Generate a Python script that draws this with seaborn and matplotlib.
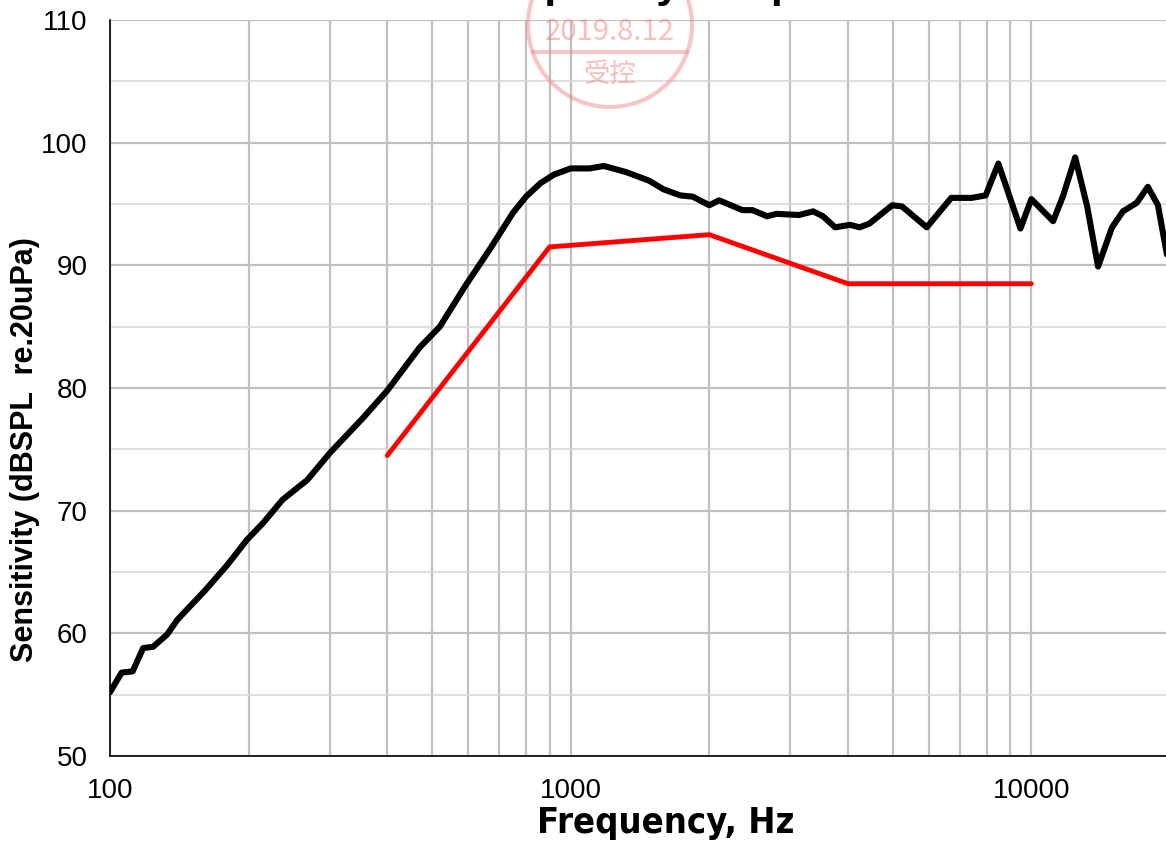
import numpy as np
import pandas as pd
import matplotlib
matplotlib.use('Agg')
import matplotlib.pyplot as plt
import seaborn as sns
from matplotlib import font_manager
from matplotlib.patches import Ellipse
from matplotlib.lines import Line2D
from matplotlib.ticker import FixedLocator, NullFormatter, FuncFormatter

# measured response (black)
freq_hz = [100, 106, 112, 118, 124, 133, 140, 150, 160, 180, 198, 215, 237, 268,
           300, 355, 400, 470, 520, 590, 670, 750, 800, 860, 920, 1000, 1100,
           1180, 1320, 1480, 1590, 1730, 1840, 2000, 2100, 2360, 2480, 2670,
           2800, 3130, 3360, 3530, 3750, 4040, 4240, 4450, 4990, 5240, 5930,
           6700, 7430, 7960, 8480, 9470, 10000, 11150, 11730, 12450, 13220,
           13960, 14970, 15810, 16940, 17900, 18830, 19670, 20000]
spl_db = [55.2, 56.8, 56.9, 58.8, 58.9, 59.9, 61.1, 62.3, 63.4, 65.6, 67.6, 69.0,
          70.9, 72.5, 74.7, 77.6, 79.8, 83.3, 85.0, 88.3, 91.4, 94.3, 95.6, 96.7,
          97.4, 97.9, 97.9, 98.1, 97.6, 96.9, 96.2, 95.7, 95.6, 94.9, 95.3, 94.5,
          94.5, 94.0, 94.2, 94.1, 94.4, 94.0, 93.1, 93.3, 93.1, 93.4, 94.9, 94.8,
          93.1, 95.5, 95.5, 95.7, 98.3, 93.0, 95.4, 93.6, 95.7, 98.8, 94.8, 89.9,
          93.1, 94.4, 95.1, 96.4, 94.9, 91.0, 89.8]

# lower limit (red)
limit_hz = [400, 900, 2000, 4000, 10000]
limit_db = [74.5, 91.5, 92.5, 88.5, 88.5]

y_major = [50, 60, 70, 80, 90, 100, 110]
x_major = [100, 1000, 10000]

sns.set_theme(style='white')
plt.rcParams['font.family'] = ['Liberation Sans', 'DejaVu Sans']
plt.rcParams['text.color'] = 'black'
plt.rcParams['axes.labelcolor'] = 'black'

# condensed face for the x label, if there is one
try:
    font_manager.findfont('Liberation Sans Narrow', fallback_to_default=False)
    narrow = dict(family='Liberation Sans Narrow')
except Exception:
    narrow = dict(family='DejaVu Sans', stretch='condensed')

W, H = 1166, 849
fig = plt.figure(figsize=(W / 100, H / 100), dpi=100)
ax = fig.add_axes([110 / W, 1 - 756 / H, 1060 / W, 736 / H])
ax.set_xscale('log')

resp = pd.DataFrame({'f': freq_hz, 'db': spl_db})
lim = pd.DataFrame({'f': limit_hz, 'db': limit_db})
sns.lineplot(data=resp, x='f', y='db', ax=ax, color='black', lw=4.4,
             estimator=None, sort=False, zorder=4)
sns.lineplot(data=lim, x='f', y='db', ax=ax, color='#ff0000', lw=3.5,
             estimator=None, sort=False, zorder=3)

ax.set_xlim(100, 20000)
ax.set_ylim(50, 110)

ax.xaxis.set_major_locator(FixedLocator(x_major))
ax.xaxis.set_major_formatter(FuncFormatter(lambda v, p: '%d' % v))
minors = [m * d for d in (100, 1000, 10000) for m in range(2, 10)]
ax.xaxis.set_minor_locator(FixedLocator(minors))
ax.xaxis.set_minor_formatter(NullFormatter())
ax.yaxis.set_major_locator(FixedLocator(y_major))
ax.yaxis.set_minor_locator(FixedLocator(list(range(55, 110, 10))))

ax.grid(which='major', axis='both', color='#c0c0c0', lw=1.6)
ax.grid(which='minor', axis='x', color='#c0c0c0', lw=1.6)
ax.grid(which='minor', axis='y', color='#d9d9d9', lw=1.2)
ax.set_axisbelow(True)

ax.tick_params(which='major', direction='in', length=6, width=1.5,
               color='#404040', labelsize=20, pad=16, labelcolor='black')
ax.tick_params(which='minor', length=0)
for s in ['top', 'right']:
    ax.spines[s].set_visible(False)
for s in ['left', 'bottom']:
    ax.spines[s].set_color('black')
    ax.spines[s].set_linewidth(1.2)

ax.set_xlabel('Frequency, Hz', fontsize=26, fontweight='bold',
              color='black', **narrow)
ax.xaxis.set_label_coords(0.524, -0.068)
ax.set_ylabel('Sensitivity (dBSPL  re.20uPa)', fontsize=22,
              fontweight='bold', color='black')
ax.yaxis.set_label_coords(-0.066, 0.416)

# title sits mostly above the canvas
fig.text(680 / W, 1 + 3 / H, 'Frequency Response', ha='center',
         va='baseline', fontsize=31, fontweight='bold', color='black', zorder=6)

# control stamp
pink = '#f07f7f'
fig.add_artist(Ellipse((610 / W, 1 - 25 / H), 164 / W, 164 / H,
                       transform=fig.transFigure, fill=False, ec=pink,
                       lw=3, alpha=0.45, zorder=5))
fig.add_artist(Line2D([533 / W, 687 / W], [1 - 52 / H] * 2,
                      transform=fig.transFigure, color=pink, lw=3,
                      alpha=0.45, zorder=5))
fig.text(610 / W, 1 - 32 / H, '2019.8.12', ha='center', va='center',
         fontsize=21, color=pink, alpha=0.5, zorder=5,
         family=['Noto Sans CJK SC', 'DejaVu Sans'])
fig.text(610 / W, 1 - 74 / H, '受控', ha='center', va='center',
         fontsize=19, color=pink, alpha=0.5, zorder=5,
         family=['Noto Sans CJK SC', 'DejaVu Sans'])

fig.savefig('out.png', dpi=100)
